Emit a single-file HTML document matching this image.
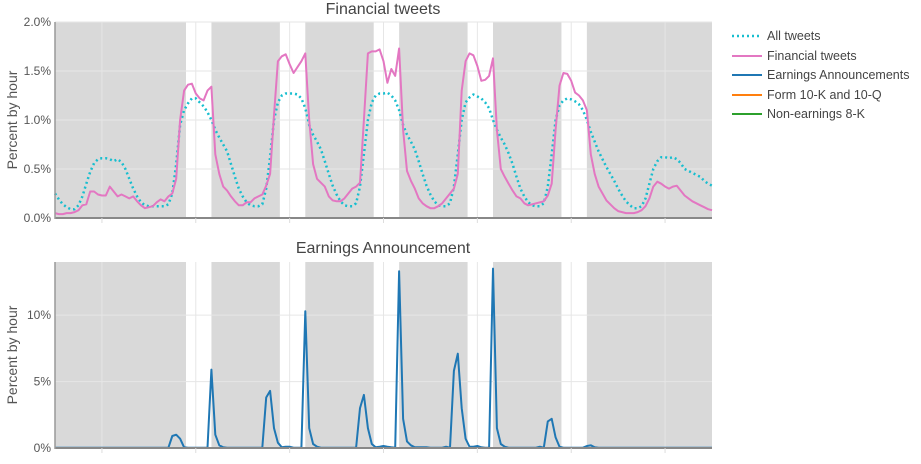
<!DOCTYPE html>
<html><head><meta charset="utf-8"><style>
body{margin:0;background:#fff;font-family:"Liberation Sans",sans-serif;}
svg text{font-family:"Liberation Sans",sans-serif;}
</style></head><body>
<svg id="chart" width="921" height="459" viewBox="0 0 921 459" xmlns="http://www.w3.org/2000/svg">
<rect width="921" height="459" fill="#fff"/>
<g id="bands"></g><g id="grid"></g><g id="series"></g><g id="axes"></g>
<text x="383" y="14" text-anchor="middle" font-size="16" fill="#444">Financial tweets</text>
<text x="383" y="253" text-anchor="middle" font-size="16" fill="#444">Earnings Announcement</text>
<text transform="translate(17,120) rotate(-90)" text-anchor="middle" font-size="14" fill="#555">Percent by hour</text>
<text transform="translate(17,355) rotate(-90)" text-anchor="middle" font-size="14" fill="#555">Percent by hour</text>
<g font-size="12.5" fill="#444">
<g><line x1="732" y1="36" x2="762" y2="36" stroke="#17becf" stroke-width="2.5" stroke-dasharray="2,3"/><text x="767" y="40">All tweets</text></g>
<g><line x1="732" y1="56" x2="762" y2="56" stroke="#e377c2" stroke-width="2"/><text x="767" y="60">Financial tweets</text></g>
<g><line x1="732" y1="75" x2="762" y2="75" stroke="#1f77b4" stroke-width="2"/><text x="767" y="79">Earnings Announcements</text></g>
<g><line x1="732" y1="95" x2="762" y2="95" stroke="#ff7f0e" stroke-width="2"/><text x="767" y="99">Form 10-K and 10-Q</text></g>
<g><line x1="732" y1="114" x2="762" y2="114" stroke="#2ca02c" stroke-width="2"/><text x="767" y="118">Non-earnings 8-K</text></g>
</g>
</svg>
<script>
const allTweets=[
0.25,0.19,0.14,0.11,0.09,0.09,0.13,0.22,0.35,0.47,0.56,0.60,0.61,0.61,0.60,0.58,0.60,0.57,0.50,0.40,0.30,0.22,0.16,0.13,
0.12,0.12,0.12,0.12,0.12,0.14,0.25,0.55,0.95,1.10,1.17,1.22,1.22,1.18,1.14,1.08,1.00,0.90,0.82,0.75,0.68,0.55,0.42,0.30,
0.22,0.16,0.13,0.12,0.12,0.14,0.30,0.62,1.00,1.18,1.25,1.27,1.27,1.27,1.26,1.22,1.12,0.95,0.85,0.78,0.70,0.58,0.45,0.33,
0.24,0.17,0.13,0.12,0.12,0.15,0.32,0.65,1.00,1.18,1.25,1.27,1.27,1.28,1.25,1.20,1.10,0.95,0.85,0.78,0.70,0.58,0.45,0.33,
0.24,0.17,0.13,0.12,0.12,0.15,0.32,0.65,1.00,1.18,1.23,1.26,1.24,1.22,1.18,1.12,1.00,0.90,0.82,0.75,0.66,0.55,0.42,0.30,
0.22,0.16,0.13,0.12,0.12,0.15,0.32,0.65,1.00,1.15,1.20,1.22,1.21,1.19,1.16,1.10,1.00,0.88,0.78,0.68,0.60,0.52,0.45,0.38,
0.30,0.23,0.17,0.13,0.10,0.10,0.12,0.20,0.35,0.50,0.58,0.62,0.62,0.61,0.62,0.60,0.56,0.50,0.48,0.46,0.44,0.42,0.38,0.35,0.33];
const financialTweets=[
0.05,0.04,0.04,0.05,0.05,0.06,0.08,0.13,0.14,0.27,0.27,0.24,0.23,0.23,0.32,0.27,0.22,0.24,0.22,0.20,0.22,0.17,0.13,0.10,
0.11,0.12,0.16,0.19,0.17,0.22,0.25,0.40,1.00,1.30,1.36,1.37,1.27,1.22,1.20,1.30,1.34,0.65,0.45,0.32,0.28,0.22,0.17,0.13,
0.13,0.16,0.16,0.20,0.22,0.24,0.33,0.45,1.05,1.60,1.65,1.67,1.57,1.48,1.54,1.60,1.68,1.00,0.55,0.40,0.36,0.32,0.22,0.18,
0.17,0.17,0.20,0.25,0.30,0.32,0.36,1.00,1.68,1.70,1.70,1.72,1.60,1.38,1.52,1.45,1.73,0.90,0.48,0.38,0.30,0.20,0.15,0.12,
0.10,0.10,0.12,0.15,0.20,0.25,0.30,0.45,1.30,1.60,1.68,1.66,1.55,1.40,1.41,1.45,1.63,0.90,0.50,0.42,0.35,0.28,0.22,0.20,
0.15,0.13,0.14,0.15,0.16,0.17,0.23,0.35,0.90,1.35,1.48,1.47,1.40,1.28,1.25,1.20,1.10,0.65,0.45,0.32,0.25,0.18,0.14,0.10,
0.07,0.06,0.05,0.05,0.05,0.06,0.08,0.12,0.20,0.32,0.37,0.35,0.32,0.30,0.32,0.33,0.28,0.23,0.20,0.17,0.15,0.13,0.11,0.09,0.08];
const earnings=[
0.02,0.02,0.02,0.02,0.02,0.02,0.02,0.02,0.02,0.02,0.02,0.02,0.02,0.02,0.02,0.02,0.02,0.02,0.02,0.02,0.02,0.02,0.02,0.02,
0.02,0.02,0.02,0.02,0.02,0.02,0.9,1.0,0.7,0.05,0.02,0.02,0.02,0.02,0.02,0.02,5.9,1.0,0.2,0.05,0.02,0.02,0.02,0.02,
0.02,0.02,0.02,0.02,0.02,0.02,3.8,4.3,1.5,0.4,0.05,0.1,0.1,0.02,0.02,0.02,10.3,1.5,0.3,0.1,0.02,0.02,0.02,0.02,
0.02,0.02,0.02,0.02,0.02,0.02,3.0,4.0,1.5,0.3,0.05,0.1,0.15,0.1,0.05,0.02,13.3,2.2,0.5,0.2,0.05,0.05,0.05,0.05,
0.02,0.02,0.02,0.02,0.1,0.02,5.8,7.1,3.0,0.7,0.1,0.1,0.15,0.05,0.02,0.02,13.5,1.5,0.3,0.1,0.02,0.02,0.02,0.02,
0.02,0.02,0.02,0.02,0.1,0.02,2.0,2.2,0.8,0.1,0.02,0.02,0.02,0.02,0.02,0.02,0.15,0.2,0.05,0.02,0.02,0.02,0.02,0.02,
0.02,0.02,0.02,0.02,0.02,0.02,0.02,0.02,0.02,0.02,0.02,0.02,0.02,0.02,0.02,0.02,0.02,0.02,0.02,0.02,0.02,0.02,0.02,0.02,0.02];
const marketOpen=[33.5,57.5,81.5,105.5,129.5];
const marketClose=[40,64,88,112,136];
const topTicks=[0,0.5,1.0,1.5,2.0];
const topTickLabels=["0.0%","0.5%","1.0%","1.5%","2.0%"];
const bottomTicks=[0,5,10];
const bottomTickLabels=["0%","5%","10%"];
const xGrid=[12,36,60,84,108,132,156];

const NS="http://www.w3.org/2000/svg";
const X0=55,X1=712,HMAX=168;
const x=h=>X0+(X1-X0)*h/HMAX;
const panels=[{top:22,bot:218,max:2.0,name:'top'},{top:262,bot:448,max:14,name:'bottom'}];
const y=(p,v)=>p.bot-(p.bot-p.top)*v/p.max;
function mk(tag,attrs,parent){const e=document.createElementNS(NS,tag);for(const k in attrs)e.setAttribute(k,attrs[k]);parent.appendChild(e);return e;}
const gB=document.getElementById('bands'),gG=document.getElementById('grid'),gS=document.getElementById('series'),gA=document.getElementById('axes');
panels.forEach(p=>{
  const starts=[0].concat(marketClose),ends=marketOpen.concat([HMAX]);
  for(let i=0;i<starts.length;i++){
    const r=mk('rect',{x:x(starts[i]),y:p.top,width:x(ends[i])-x(starts[i]),height:p.bot-p.top,fill:'#d9d9d9'},gB);
    
    
  }
  xGrid.forEach(h=>{
    const l=mk('line',{x1:x(h),x2:x(h),y1:p.top,y2:p.bot,stroke:'#e6e6e6','stroke-width':1},gG);
    
    
  });
});
const pt=panels[0],pb=panels[1];
topTicks.forEach((v,i)=>{
  if(v>0){const l=mk('line',{x1:X0,x2:X1,y1:y(pt,v),y2:y(pt,v),stroke:'#e6e6e6','stroke-width':1},gG);
  
  }
  const t=mk('text',{x:51,y:y(pt,v)+4,'text-anchor':'end','font-size':12,fill:'#555'},gA);t.textContent=topTickLabels[i];
  
  
});
bottomTicks.forEach((v,i)=>{
  if(v>0){const l=mk('line',{x1:X0,x2:X1,y1:y(pb,v),y2:y(pb,v),stroke:'#e6e6e6','stroke-width':1},gG);
  
  }
  const t=mk('text',{x:51,y:y(pb,v)+4,'text-anchor':'end','font-size':12,fill:'#555'},gA);t.textContent=bottomTickLabels[i];
  
  
});
function line(p,arr,attrs,name){
  const d=arr.map((v,i)=>(i?'L':'M')+x(i).toFixed(1)+','+y(p,v).toFixed(1)).join('');
  const e=mk('path',Object.assign({d:d,fill:'none','stroke-linejoin':'round'},attrs),gS);
  
  
}
line(pt,allTweets,{stroke:'#17becf','stroke-width':2.5,'stroke-dasharray':'2,3'},'all-tweets-line');
line(pt,financialTweets,{stroke:'#e377c2','stroke-width':2},'financial-tweets-line');
line(pb,earnings,{stroke:'#1f77b4','stroke-width':2},'earnings-announcements-line');
panels.forEach(p=>{
  const a=mk('line',{x1:X0,x2:X1,y1:p.bot,y2:p.bot,stroke:'#888','stroke-width':2},gA);
  
  
  const b=mk('line',{x1:X0,x2:X0,y1:p.top,y2:p.bot+1,stroke:'#999','stroke-width':1.5},gA);
  
  
  xGrid.forEach(h=>{const t=mk('line',{x1:x(h),x2:x(h),y1:p.bot,y2:p.bot+5,stroke:'#ddd','stroke-width':1},gA);
  
  });
});
</script>
</body></html>
